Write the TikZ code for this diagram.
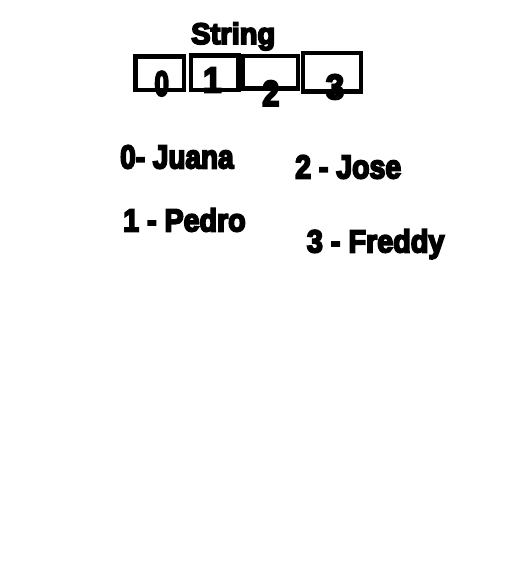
\documentclass[tikz,border=0pt]{standalone}
\usepackage{fontspec}
\newfontfamily\impfont[FakeBold=6]{Liberation Sans}
\newcommand{\imptext}[3]{\resizebox{#1pt}{#2pt}{\impfont\bfseries #3}}
\begin{document}
\begin{tikzpicture}[x=1pt,y=-1pt,
  cell/.style={draw=black,line width=4.5pt,inner sep=0pt,anchor=north west},
  lbl/.style={inner sep=0pt,anchor=base west,text=black},
  idx/.style={inner sep=0pt,anchor=base,text=black}]
\useasboundingbox[fill=white] (0,0) rectangle (521,586);
% title
\node[lbl] (title) at (191,44) {\imptext{84}{21.5}{String}};
% cells
\node[cell,minimum width=48.5pt,minimum height=33pt] (b0) at (133.2,54.5) {};
\node[cell,minimum width=47.5pt,minimum height=34.5pt] (b1) at (188.5,53.2) {};
\node[cell,minimum width=55pt,minimum height=32.5pt] (b2) at (240.7,53.7) {};
\node[cell,minimum width=58pt,minimum height=38.7pt] (b3) at (300.5,50.7) {};
% indices
\node[idx] (d0) at (161.7,95.7) {\imptext{14.5}{24.5}{0}};
\node[idx] (d1) at (212.3,92.3) {\imptext{18.5}{24.5}{1}};
\node[idx] (d2) at (270.8,105.7) {\imptext{17}{25}{2}};
\node[idx] (d3) at (335,99) {\imptext{18.5}{24.5}{3}};
% legend
\node[lbl] (l0) at (120,168.3) {\imptext{113.5}{23}{0- Juana}};
\node[lbl] (l2) at (295,178.3) {\imptext{106}{23}{2 - Jose}};
\node[lbl] (l1) at (123,231.3) {\imptext{122.5}{23}{1 - Pedro}};
\node[lbl] (l3) at (306.7,252.3) {\imptext{137.5}{23}{3 - Freddy}};
\end{tikzpicture}
\end{document}
